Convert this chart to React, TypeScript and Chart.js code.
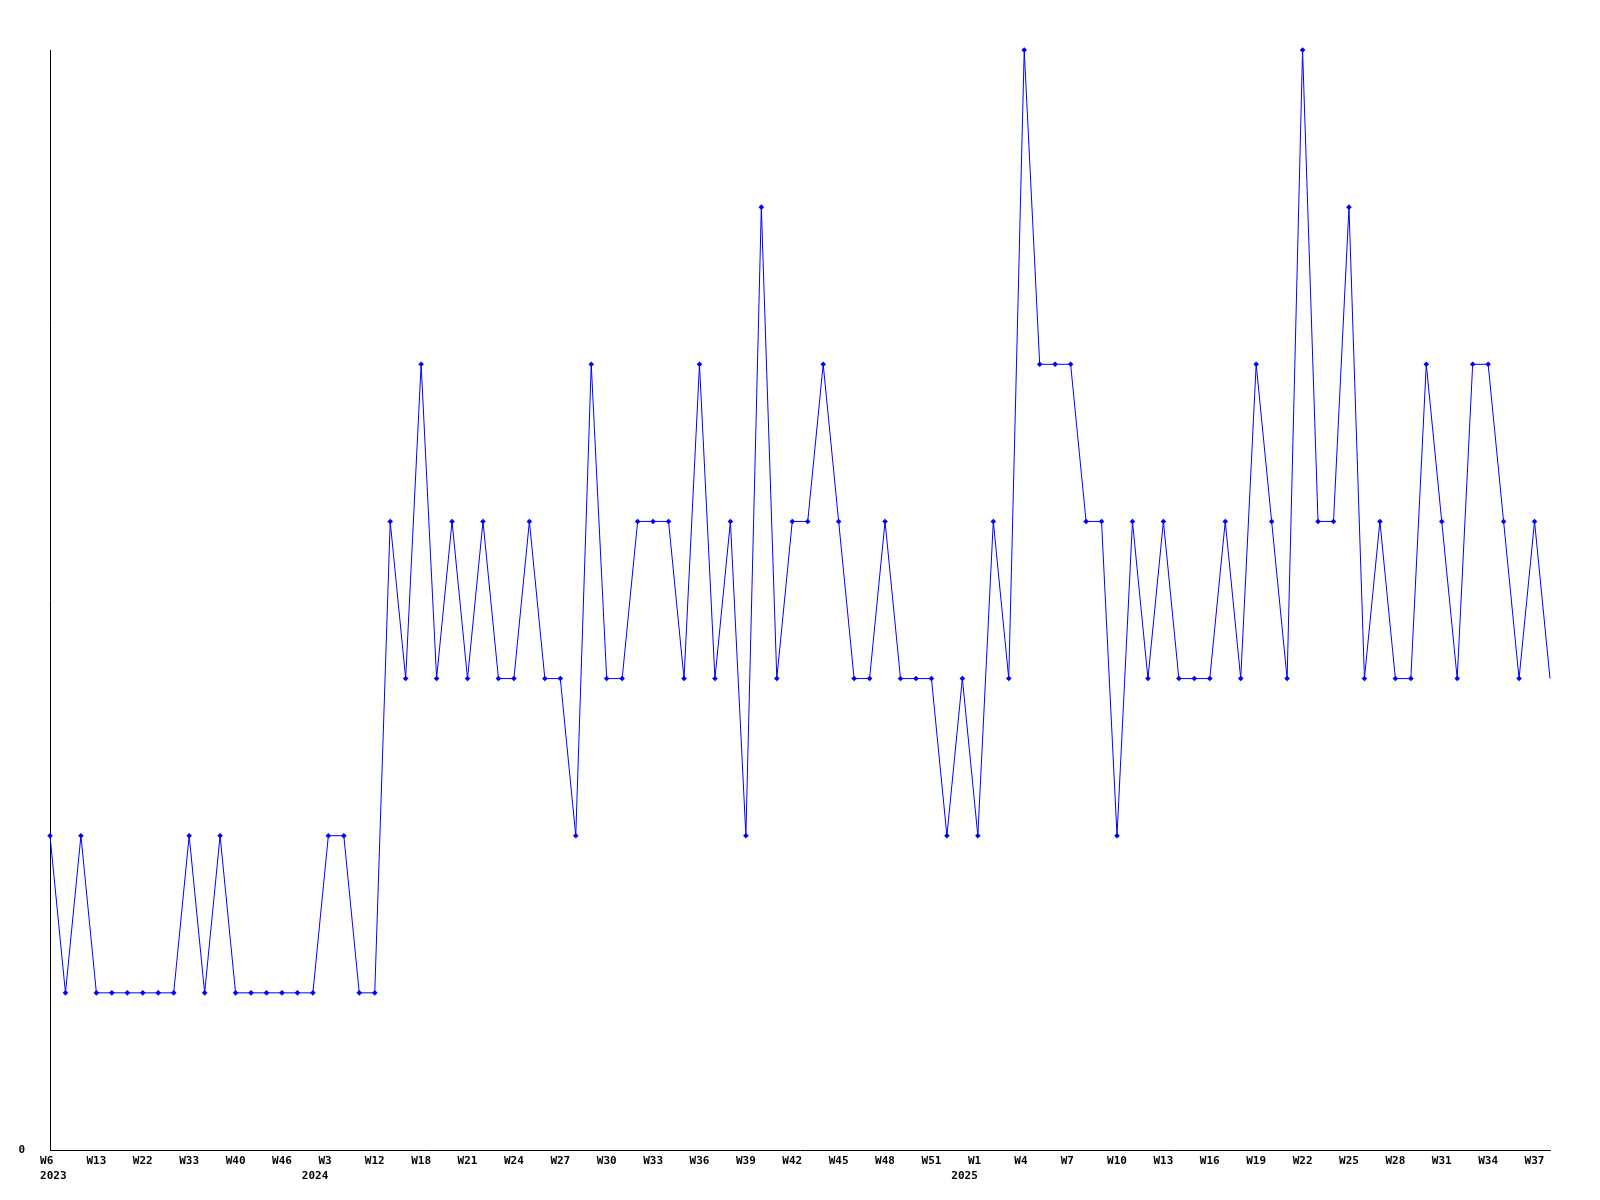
import React, { useEffect, useRef } from "react";
import { Chart, registerables } from "chart.js";

Chart.register(...registerables);

// Week categories (only every third one is labelled on the axis)
const weeks: string[] = [
  "W6", "W8", "W10", "W13", "W15", "W17", "W22", "W26", "W30", "W33", "W35", "W38",
  "W40", "W42", "W44", "W46", "W49", "W51",
  "W3", "W6", "W9", "W12", "W14", "W16",
  "W18", "W19", "W20", "W21", "W22", "W23", "W24", "W25", "W26", "W27", "W28", "W29",
  "W30", "W31", "W32", "W33", "W34", "W35", "W36", "W37", "W38", "W39", "W40", "W41",
  "W42", "W43", "W44", "W45", "W46", "W47", "W48", "W49", "W50", "W51", "W52", "W53",
  "W1", "W2", "W3", "W4", "W5", "W6", "W7", "W8", "W9", "W10", "W11", "W12",
  "W13", "W14", "W15", "W16", "W17", "W18", "W19", "W20", "W21", "W22", "W23", "W24",
  "W25", "W26", "W27", "W28", "W29", "W30", "W31", "W32", "W33", "W34", "W35", "W36",
  "W37", "W38",
];

// Year shown under the first labelled week of each year (by category index)
const yearIndices: number[] = [0, 18, 60];
const yearLabels: string[] = ["2023", "2024", "2025"];

const values: number[] = [
  2, 1, 2, 1, 1, 1, 1, 1, 1, 2, 1, 2,
  1, 1, 1, 1, 1, 1,
  2, 2, 1, 1, 4, 3,
  5, 3, 4, 3, 4, 3, 3, 4, 3, 3, 2, 5,
  3, 3, 4, 4, 4, 3, 5, 3, 4, 2, 6, 3,
  4, 4, 5, 4, 3, 3, 4, 3, 3, 3, 2, 3,
  2, 4, 3, 7, 5, 5, 5, 4, 4, 2, 4, 3,
  4, 3, 3, 3, 4, 3, 5, 4, 3, 7, 4, 4,
  6, 3, 4, 3, 3, 5, 4, 3, 5, 5, 4, 3,
  4, 3,
];

const yTickLabels: string[] = ["0"];

export default function App() {
  const ref = useRef<HTMLCanvasElement | null>(null);

  useEffect(() => {
    document.body.style.margin = "0";
    const canvas = ref.current;
    if (!canvas) return;
    const font = { family: "'DejaVu Sans Mono', monospace", size: 11, weight: "bold" as const, lineHeight: 15 / 11 };
    const last = values.length - 1;
    const chart = new Chart(canvas, {
      type: "line",
      data: {
        labels: weeks,
        datasets: [
          {
            data: values,
            borderColor: "#0000ff",
            backgroundColor: "#0000ff",
            borderWidth: 1,
            tension: 0,
            fill: false,
            clip: false,
            pointStyle: "rectRot",
            pointRadius: (c: any) => (c.dataIndex === last ? 0 : 2.8),
            pointBackgroundColor: "#0000ff",
            pointBorderColor: "#0000ff",
            pointBorderWidth: 0,
            pointHoverRadius: 2.8,
          },
        ],
      },
      options: {
        responsive: false,
        animation: false,
        events: [],
        layout: { padding: { top: 50, right: 50, left: 0, bottom: 0 } },
        plugins: { legend: { display: false }, tooltip: { enabled: false }, title: { display: false } },
        scales: {
          x: {
            type: "category",
            offset: false,
            grid: { display: true, drawOnChartArea: false, drawTicks: false, tickLength: 0 },
            border: { display: true, color: "#000000", width: 1 },
            ticks: {
              autoSkip: false,
              maxRotation: 0,
              minRotation: 0,
              padding: 4,
              color: "#000000",
              font,
              callback: (_v: any, i: number) => {
                if (i % 3 !== 0) return "";
                const w = weeks[i].length < 3 ? weeks[i] + " " : weeks[i];
                const yi = yearIndices.indexOf(i);
                if (yi < 0) return w;
                const y = yi === 0 ? " " + yearLabels[yi] : yearLabels[yi] + "    ";
                return [w, y];
              },
            },
            afterFit: (s: any) => {
              s.height = 50;
            },
          },
          y: {
            min: 0,
            max: 7,
            grid: { display: true, drawOnChartArea: false, drawTicks: false, tickLength: 0 },
            border: { display: true, color: "#000000", width: 1 },
            ticks: {
              stepSize: 1,
              padding: 25,
              color: "#000000",
              font,
              callback: (v: any) => (v === 0 ? yTickLabels[0] : ""),
            },
            afterFit: (s: any) => {
              s.width = 50;
            },
          },
        },
      },
    });
    return () => chart.destroy();
  }, []);

  return (
    <div style={{ position: "absolute", left: 0, top: 0, width: 1600, height: 1200 }}>
      <canvas ref={ref} width={1600} height={1200} style={{ display: "block" }} />
    </div>
  );
}
